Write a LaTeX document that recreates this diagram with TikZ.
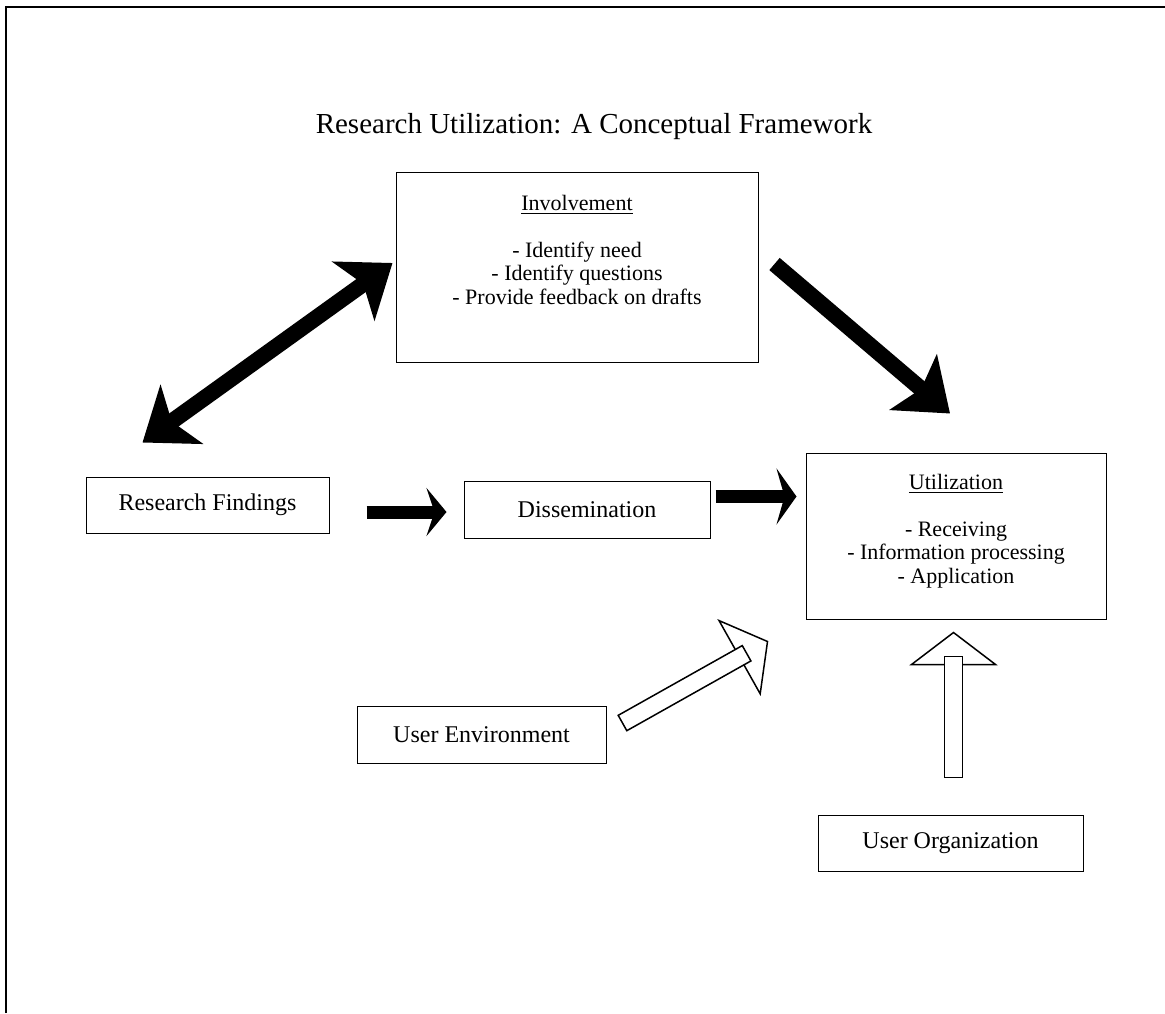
\documentclass[tikz,border=0pt]{standalone}
\usepackage{fontspec}
\setmainfont{Liberation Serif}
\usetikzlibrary{arrows.meta,calc}

\begin{document}
\begin{tikzpicture}[x=0.5pt,y=-0.5pt]
\tikzstyle{box}=[draw,line width=0.5pt,inner sep=0pt,minimum height=28pt,font=\fontsize{12}{14}\selectfont]
\tikzstyle{listbox}=[draw,line width=0.5pt,inner sep=0pt]
\tikzstyle{listtext}=[anchor=north,align=center,inner sep=0pt,font=\fontsize{11}{11.75}\selectfont]
\tikzstyle{bigarrow}=[line width=8pt]
\tikzstyle{smallarrow}=[line width=6.5pt]
\tikzstyle{openpart}=[draw,fill=white,line width=0.75pt,line join=miter]
\def\openarrow#1#2{%
  \coordinate (oa-base) at ($(#2)!16pt!(#1)$);
  \coordinate (oa-end) at ($(oa-base)!4pt!(#2)$);
  \filldraw[openpart] ($(oa-base)!21pt!90:(#2)$) -- (#2) -- ($(oa-base)!21pt!-90:(#2)$) -- cycle;
  \filldraw[openpart] ($(#1)!4.4pt!90:(#2)$) -- ($(oa-end)!4.4pt!90:(#2)$)
    -- ($(oa-end)!4.4pt!-90:(#2)$) -- ($(#1)!4.4pt!-90:(#2)$) -- cycle;
}
\useasboundingbox (0,0) rectangle (1165,1013);
\draw[line width=1pt] (6,1013) -- (6,7) -- (1165,7);

\node[font=\fontsize{14.5}{16}\selectfont] (title) at (594,127) {Research Utilization: A Conceptual Framework};

\node[listbox,minimum width=181pt,minimum height=95pt] (involve) at (577,267) {};
\node[listtext] (involve-text) at ($(involve.north)+(0,23)$)
  {\underline{Involvement}\\[11.75pt] - Identify need\\ - Identify questions\\ - Provide feedback on drafts};
\node[listbox,minimum width=150pt,minimum height=83pt] (util) at (956,536) {};
\node[listtext] (util-text) at ($(util.north)+(0,21)$)
  {\underline{Utilization}\\[11.75pt] - Receiving\\ - Information processing\\ - Application};

\node[box,minimum width=121.5pt] (rf) at (207.5,505) {Research Findings};
\node[box,minimum width=123pt,minimum height=28.5pt] (diss) at (587,509.5) {Dissemination};
\node[box,minimum width=124.5pt,minimum height=28.5pt] (env) at (481.5,735) {User Environment};
\node[box,minimum width=132.5pt] (org) at (950.5,843) {User Organization};

% black arrows
\coordinate (dbl-a) at ($(rf.north west)+(57,-34)$);
\coordinate (dbl-b) at ($(involve.west)+(-3,-4)$);
\draw[bigarrow,{Stealth[length=24pt,width=36pt,inset=6pt]}-{Stealth[length=24pt,width=36pt,inset=6pt]}] (dbl-a) -- (dbl-b);
\coordinate (inv-out) at ($(involve.east)+(16,-3)$);
\coordinate (util-in) at ($(util.north)+(-6,-39)$);
\draw[bigarrow,-{Stealth[length=24pt,width=36pt,inset=5pt]}] (inv-out) -- (util-in);
\coordinate (rf-out) at ($(rf.east)+(37,7)$);
\draw[smallarrow,-{Stealth[length=10pt,width=24pt,inset=4pt]},shorten >=8.5pt] (rf-out) -- (rf-out -| diss.west);
\coordinate (diss-out) at ($(diss.east)+(5,-13)$);
\draw[smallarrow,-{Stealth[length=10pt,width=28pt,inset=4pt]},shorten >=4.5pt] (diss-out) -- (diss-out -| util.west);

% open arrows
\coordinate (env-out) at ($(env.east)+(16,-12)$);
\coordinate (env-tip) at ($(util.south west)+(-38,22)$);
\openarrow{env-out}{env-tip}
\coordinate (org-out) at ($(org.north)+(3,-37)$);
\coordinate (org-tip) at ($(org-out)+(0,-145)$);
\openarrow{org-out}{org-tip}
\end{tikzpicture}
\end{document}
